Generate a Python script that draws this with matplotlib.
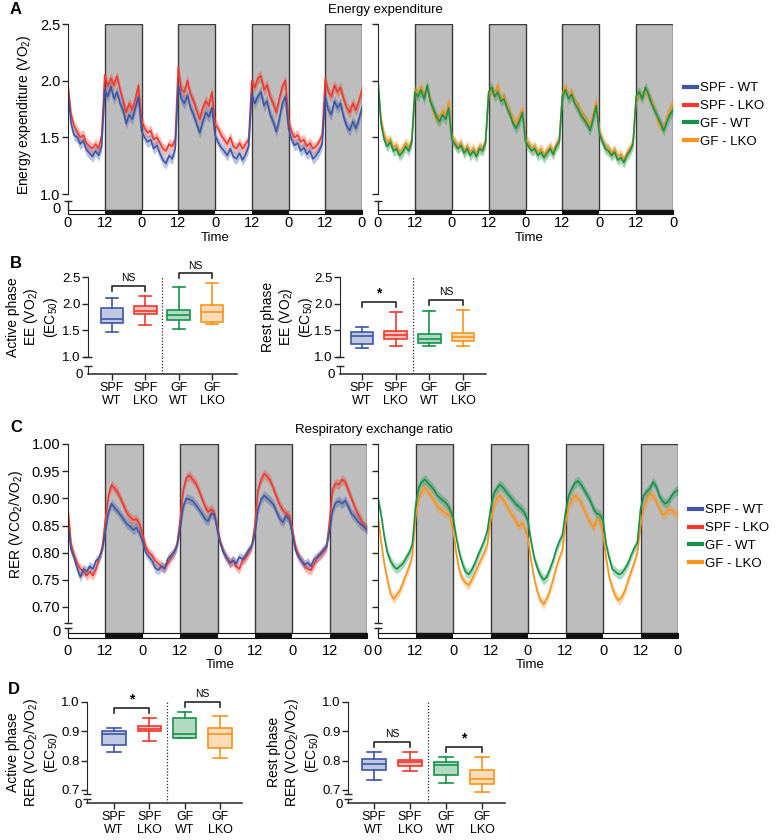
import numpy as np
import matplotlib
matplotlib.use("Agg")
import matplotlib.pyplot as plt
from matplotlib.transforms import blended_transform_factory
from matplotlib.lines import Line2D
from matplotlib.patches import Rectangle
from matplotlib.colors import to_rgba

plt.rcParams['font.family'] = ['Liberation Sans', 'DejaVu Sans']
plt.rcParams['mathtext.default'] = 'regular'

# ---------------- data ----------------
hours = np.arange(0, 97)            # hourly time points, 4 days
dark_starts = [12, 36, 60, 84]
dark_len = 12
time_ticks = [0, 12, 24, 36, 48, 60, 72, 84, 96]
time_ticklabels = ["0", "12", "0", "12", "0", "12", "0", "12", "0"]

groups = ["SPF - WT", "SPF - LKO", "GF - WT", "GF - LKO"]
box_labels = ["SPF\nWT", "SPF\nLKO", "GF\nWT", "GF\nLKO"]

ee_spf_wt = [1.90, 1.62, 1.52, 1.50, 1.44, 1.47, 1.39, 1.36, 1.33, 1.38, 1.34, 1.42,
             1.92, 1.86, 1.95, 1.84, 1.90, 1.80, 1.74, 1.62, 1.70, 1.66, 1.76, 1.86,
             1.56, 1.50, 1.46, 1.48, 1.40, 1.43, 1.36, 1.30, 1.27, 1.34, 1.31, 1.40,
             1.96, 1.84, 1.80, 1.87, 1.76, 1.70, 1.62, 1.54, 1.64, 1.72, 1.68, 1.76,
             1.52, 1.46, 1.41, 1.38, 1.34, 1.40, 1.33, 1.31, 1.36, 1.30, 1.35, 1.42,
             1.88, 1.80, 1.86, 1.90, 1.78, 1.82, 1.70, 1.64, 1.55, 1.66, 1.80, 1.86,
             1.58, 1.48, 1.43, 1.45, 1.38, 1.41, 1.35, 1.38, 1.31, 1.34, 1.38, 1.44,
             1.86, 1.74, 1.70, 1.82, 1.76, 1.80, 1.68, 1.60, 1.56, 1.64, 1.58, 1.66,
             1.76]
ee_spf_lko = [1.96, 1.70, 1.60, 1.55, 1.50, 1.52, 1.45, 1.42, 1.40, 1.44, 1.40, 1.52,
              2.05, 1.95, 2.02, 1.96, 2.04, 1.92, 1.82, 1.72, 1.80, 1.74, 1.84, 1.96,
              1.65, 1.58, 1.54, 1.56, 1.48, 1.50, 1.45, 1.40, 1.38, 1.44, 1.42, 1.48,
              2.12, 1.92, 1.90, 2.00, 1.88, 1.82, 1.74, 1.66, 1.76, 1.82, 1.78, 1.90,
              1.62, 1.58, 1.52, 1.48, 1.44, 1.50, 1.42, 1.40, 1.45, 1.40, 1.44, 1.48,
              2.00, 1.94, 2.02, 2.04, 1.92, 1.96, 1.86, 1.80, 1.72, 1.84, 1.95, 2.00,
              1.65, 1.55, 1.50, 1.52, 1.46, 1.48, 1.42, 1.45, 1.40, 1.42, 1.46, 1.52,
              2.02, 1.90, 1.86, 1.96, 1.90, 1.94, 1.84, 1.76, 1.72, 1.80, 1.74, 1.82,
              1.92]
ee_gf_wt = [2.00, 1.62, 1.48, 1.42, 1.46, 1.38, 1.40, 1.34, 1.37, 1.42, 1.38, 1.46,
            1.90, 1.86, 1.92, 1.84, 1.96, 1.82, 1.75, 1.68, 1.64, 1.70, 1.66, 1.76,
            1.48, 1.44, 1.40, 1.43, 1.36, 1.40, 1.34, 1.38, 1.33, 1.40, 1.38, 1.45,
            1.90, 1.94, 1.86, 1.90, 1.82, 1.84, 1.76, 1.70, 1.62, 1.58, 1.64, 1.72,
            1.46, 1.42, 1.38, 1.40, 1.34, 1.37, 1.32, 1.36, 1.40, 1.35, 1.42, 1.46,
            1.86, 1.92, 1.84, 1.88, 1.80, 1.76, 1.70, 1.66, 1.62, 1.56, 1.66, 1.78,
            1.54, 1.46, 1.40, 1.38, 1.34, 1.37, 1.30, 1.32, 1.28, 1.34, 1.38, 1.44,
            1.86, 1.90, 1.84, 1.94, 1.88, 1.80, 1.74, 1.68, 1.62, 1.56, 1.64, 1.70,
            1.74]
ee_gf_lko = [1.92, 1.66, 1.52, 1.46, 1.48, 1.41, 1.43, 1.37, 1.40, 1.45, 1.41, 1.48,
             1.92, 1.88, 1.95, 1.86, 1.94, 1.84, 1.72, 1.66, 1.66, 1.74, 1.68, 1.82,
             1.50, 1.46, 1.42, 1.45, 1.38, 1.42, 1.37, 1.40, 1.36, 1.42, 1.40, 1.47,
             1.88, 1.92, 1.88, 1.96, 1.84, 1.86, 1.78, 1.72, 1.66, 1.62, 1.68, 1.76,
             1.48, 1.45, 1.40, 1.42, 1.37, 1.40, 1.35, 1.38, 1.42, 1.37, 1.44, 1.48,
             1.88, 1.95, 1.86, 1.90, 1.82, 1.78, 1.72, 1.68, 1.64, 1.60, 1.70, 1.82,
             1.56, 1.48, 1.42, 1.40, 1.36, 1.39, 1.33, 1.35, 1.30, 1.36, 1.40, 1.46,
             1.84, 1.88, 1.86, 1.92, 1.86, 1.82, 1.76, 1.64, 1.60, 1.58, 1.68, 1.76,
             1.80]

rer_spf_wt = [0.850, 0.805, 0.790, 0.770, 0.755, 0.770, 0.765, 0.775, 0.770, 0.785, 0.790, 0.805,
              0.840, 0.875, 0.890, 0.882, 0.876, 0.868, 0.860, 0.852, 0.848, 0.842, 0.846, 0.836,
              0.820, 0.800, 0.792, 0.785, 0.772, 0.768, 0.775, 0.770, 0.788, 0.795, 0.800, 0.812,
              0.845, 0.885, 0.900, 0.898, 0.895, 0.888, 0.880, 0.872, 0.862, 0.858, 0.872, 0.870,
              0.840, 0.815, 0.800, 0.790, 0.782, 0.786, 0.780, 0.792, 0.788, 0.795, 0.805, 0.812,
              0.835, 0.880, 0.898, 0.905, 0.900, 0.895, 0.888, 0.875, 0.862, 0.856, 0.868, 0.862,
              0.835, 0.805, 0.792, 0.785, 0.778, 0.782, 0.775, 0.788, 0.792, 0.798, 0.805, 0.812,
              0.840, 0.880, 0.892, 0.895, 0.890, 0.896, 0.885, 0.872, 0.866, 0.858, 0.852, 0.848,
              0.842]
rer_spf_lko = [0.880, 0.815, 0.795, 0.780, 0.770, 0.765, 0.758, 0.765, 0.758, 0.770, 0.790, 0.810,
               0.860, 0.905, 0.925, 0.918, 0.910, 0.898, 0.885, 0.872, 0.865, 0.860, 0.862, 0.852,
               0.832, 0.810, 0.800, 0.795, 0.785, 0.780, 0.775, 0.772, 0.780, 0.790, 0.800, 0.815,
               0.860, 0.915, 0.938, 0.942, 0.935, 0.928, 0.915, 0.900, 0.885, 0.875, 0.880, 0.872,
               0.845, 0.818, 0.800, 0.790, 0.780, 0.785, 0.775, 0.770, 0.785, 0.790, 0.800, 0.812,
               0.850, 0.915, 0.935, 0.945, 0.940, 0.932, 0.918, 0.902, 0.888, 0.878, 0.872, 0.868,
               0.845, 0.812, 0.795, 0.785, 0.775, 0.770, 0.768, 0.778, 0.790, 0.795, 0.802, 0.810,
               0.860, 0.918, 0.928, 0.925, 0.935, 0.930, 0.915, 0.900, 0.885, 0.872, 0.862, 0.850,
               0.845]
rer_gf_wt = [0.900, 0.870, 0.830, 0.800, 0.785, 0.775, 0.770, 0.775, 0.780, 0.790, 0.800, 0.815,
             0.885, 0.920, 0.930, 0.935, 0.928, 0.922, 0.915, 0.905, 0.900, 0.895, 0.890, 0.880,
             0.865, 0.830, 0.800, 0.780, 0.765, 0.760, 0.768, 0.780, 0.795, 0.808, 0.822, 0.840,
             0.880, 0.908, 0.918, 0.925, 0.920, 0.912, 0.905, 0.898, 0.890, 0.885, 0.880, 0.872,
             0.858, 0.820, 0.790, 0.772, 0.758, 0.750, 0.755, 0.770, 0.785, 0.805, 0.820, 0.832,
             0.875, 0.905, 0.918, 0.928, 0.932, 0.925, 0.915, 0.905, 0.895, 0.880, 0.872, 0.870,
             0.860, 0.815, 0.790, 0.770, 0.765, 0.760, 0.762, 0.770, 0.780, 0.795, 0.808, 0.818,
             0.880, 0.905, 0.912, 0.918, 0.930, 0.922, 0.905, 0.895, 0.890, 0.895, 0.905, 0.912,
             0.915]
rer_gf_lko = [0.865, 0.820, 0.780, 0.750, 0.725, 0.715, 0.722, 0.730, 0.745, 0.760, 0.775, 0.795,
              0.865, 0.900, 0.912, 0.920, 0.912, 0.905, 0.895, 0.885, 0.880, 0.875, 0.872, 0.868,
              0.845, 0.800, 0.768, 0.752, 0.745, 0.740, 0.750, 0.762, 0.775, 0.788, 0.800, 0.815,
              0.860, 0.885, 0.900, 0.905, 0.898, 0.888, 0.878, 0.868, 0.860, 0.848, 0.855, 0.845,
              0.825, 0.785, 0.752, 0.728, 0.712, 0.705, 0.715, 0.730, 0.750, 0.772, 0.790, 0.805,
              0.855, 0.885, 0.898, 0.905, 0.900, 0.892, 0.878, 0.865, 0.855, 0.845, 0.862, 0.858,
              0.835, 0.790, 0.755, 0.735, 0.720, 0.712, 0.718, 0.730, 0.748, 0.765, 0.782, 0.800,
              0.850, 0.882, 0.898, 0.908, 0.905, 0.895, 0.882, 0.870, 0.872, 0.880, 0.878, 0.872,
              0.870]
ee_sem = 0.05
rer_sem = 0.009

# box statistics (whisker low, Q1, median, Q3, whisker high), order = groups
ee_active_spf_wt = [1.46, 1.645, 1.72, 1.91, 2.11]
ee_active_spf_lko = [1.60, 1.80, 1.87, 1.95, 2.15]
ee_active_gf_wt = [1.53, 1.69, 1.78, 1.88, 2.31]
ee_active_gf_lko = [1.62, 1.65, 1.85, 1.97, 2.38]
ee_rest_spf_wt = [1.17, 1.24, 1.39, 1.46, 1.565]
ee_rest_spf_lko = [1.21, 1.34, 1.42, 1.48, 1.85]
ee_rest_gf_wt = [1.20, 1.26, 1.34, 1.43, 1.86]
ee_rest_gf_lko = [1.21, 1.29, 1.37, 1.44, 1.89]
rer_active_spf_wt = [0.828, 0.853, 0.890, 0.900, 0.910]
rer_active_spf_lko = [0.867, 0.900, 0.909, 0.918, 0.947]
rer_active_gf_wt = [0.876, 0.877, 0.890, 0.945, 0.966]
rer_active_gf_lko = [0.808, 0.843, 0.891, 0.911, 0.953]
rer_rest_spf_wt = [0.733, 0.767, 0.788, 0.806, 0.831]
rer_rest_spf_lko = [0.764, 0.782, 0.796, 0.801, 0.831]
rer_rest_gf_wt = [0.724, 0.751, 0.785, 0.796, 0.813]
rer_rest_gf_lko = [0.693, 0.720, 0.738, 0.767, 0.813]

sig_ee_active = ["NS", "NS"]
sig_ee_rest = ["*", "NS"]
sig_rer_active = ["*", "NS"]
sig_rer_rest = ["NS", "*"]

# ---------------- style ----------------
COLORS = ['#3D56A6', '#EE3A2E', '#15924A', '#F7941E']
INK = '#262626'
GRAY = '#BDBDBD'
W, H = 776, 840
fig = plt.figure(figsize=(W / 100, H / 100), dpi=100)


def rect(x0, y0, x1, y1):
    return [x0 / W, 1 - y1 / H, (x1 - x0) / W, (y1 - y0) / H]


def ftext(x, y, s, **kw):
    fig.text(x / W, 1 - y / H, s, **kw)


def time_panel(x0, x1, y_top, bar_top, bar_bot, v_top, ppu, yticks, fmt,
               spine_low_px, seg_top_px, show_labels, series, sem, xpad):
    ax = fig.add_axes(rect(x0, y_top, x1, bar_bot))

    def v(py):
        return v_top - (py - y_top) / ppu

    ax.set_xlim(0, 96)
    ax.set_ylim(v(bar_bot), v_top)
    spans = [(s, dark_len) for s in dark_starts]
    ax.broken_barh(spans, (v(bar_top), v_top - v(bar_top)), facecolors=GRAY,
                   edgecolors='#3a3a3a', linewidth=1.0, zorder=1)
    ax.add_patch(Rectangle((0, v(bar_bot)), 96, v(bar_top) - v(bar_bot),
                           facecolor='white', edgecolor='#111111', lw=0.8,
                           zorder=3, clip_on=False))
    ax.broken_barh(spans, (v(bar_bot), v(bar_top) - v(bar_bot)),
                   facecolors='#111111', edgecolors='none', zorder=4)
    for vals, col in series:
        y = np.asarray(vals)
        ax.fill_between(hours, y - sem, y + sem, color=col, alpha=0.35, lw=0, zorder=2)
        ax.plot(hours, y, color=col, lw=1.2, zorder=2.5)

    for s in ['top', 'right', 'bottom']:
        ax.spines[s].set_visible(False)
    spine_low = v(spine_low_px)
    ax.spines['left'].set_bounds(spine_low, v_top)
    ax.spines['left'].set_color(INK)
    ax.set_yticks(yticks)
    if show_labels:
        ax.set_yticklabels([fmt % t for t in yticks])
    else:
        ax.set_yticklabels([])
    ax.tick_params(axis='y', length=4, width=1, pad=1.5, labelsize=10.5, color=INK)
    ax.set_xticks(time_ticks)
    ax.set_xticklabels(time_ticklabels)
    ax.tick_params(axis='x', length=0, pad=xpad, labelsize=10.5)

    trans = blended_transform_factory(ax.transAxes, ax.transData)
    if spine_low < min(yticks) - 1e-6:
        ax.plot([0], [spine_low], marker='_', ms=6, mew=1, color=INK,
                transform=trans, clip_on=False)
    ax.plot([0, 0], [v(seg_top_px), v(bar_top)], color=INK, lw=1,
            transform=trans, clip_on=False, zorder=5)
    ax.plot([0], [v(seg_top_px)], marker='_', ms=6, mew=1, color=INK,
            transform=trans, clip_on=False)
    if show_labels:
        ax.annotate('0', xy=(0, v(bar_top - 1)), xycoords=trans, xytext=(-5, 0),
                    textcoords='offset points', ha='right', va='center', fontsize=10.5)
    return ax


def box_panel(x0, x1, y_top, y_low_end, y_axis, tick_top, tick_top_px, ppu,
              cat_first_px, cat_last_px, yticks, stats, sig, seg_top_px, box_w, cap_w):
    def v(py):
        return tick_top - (py - tick_top_px) / ppu

    unit = (cat_last_px - cat_first_px) / 3.0
    xlim = (1 - (cat_first_px - x0) / unit, 4 + (x1 - cat_last_px) / unit)

    ax = fig.add_axes(rect(x0, y_top, x1, y_low_end))
    v_low, v_top = v(y_low_end), v(y_top)
    ax.set_ylim(v_low, v_top)
    ax.set_xlim(*xlim)
    st = [dict(whislo=s[0], q1=s[1], med=s[2], q3=s[3], whishi=s[4], label='')
          for s in stats]
    bp = ax.bxp(st, positions=[1, 2, 3, 4], widths=box_w, showfliers=False,
                patch_artist=True, capwidths=cap_w, manage_ticks=False)
    for i, col in enumerate(COLORS):
        bp['boxes'][i].set(facecolor=to_rgba(col, 0.32), edgecolor=col, lw=1.2)
        bp['medians'][i].set(color=col, lw=1.2)
        for k in (2 * i, 2 * i + 1):
            bp['whiskers'][k].set(color=col, lw=1.2)
            bp['caps'][k].set(color=col, lw=1.2)
    # significance brackets
    for (i, j), lab in zip([(1, 2), (3, 4)], sig):
        hi = max(stats[i - 1][4], stats[j - 1][4])
        yb = hi + 10 / ppu
        leg = 5 / ppu
        ax.plot([i, i, j, j], [yb - leg, yb, yb, yb - leg], color=INK, lw=1.2,
                clip_on=False)
        if lab == '*':
            ax.text((i + j) / 2, yb + 1 / ppu, '*', ha='center', va='bottom',
                    fontsize=10, fontweight='bold')
        else:
            ax.text((i + j) / 2, yb + 2.5 / ppu, lab, ha='center', va='bottom', fontsize=7.5)
    ymax_frac = (max(yticks) - v_low) / (v_top - v_low)
    ax.axvline(2.5, ymin=0, ymax=ymax_frac, ls=(0, (1, 1.5)), color=INK, lw=0.9)
    for s in ['top', 'right', 'bottom']:
        ax.spines[s].set_visible(False)
    ax.spines['left'].set_bounds(v_low, max(yticks))
    ax.spines['left'].set_color(INK)
    ax.set_yticks(yticks)
    ax.set_yticklabels(['%.1f' % t for t in yticks])
    ax.tick_params(axis='y', length=4, width=1, pad=1.2, labelsize=9.5, color=INK)
    ax.set_xticks([])
    if v_low < min(yticks) - 1e-6:
        trans = blended_transform_factory(ax.transAxes, ax.transData)
        ax.plot([0], [v_low], marker='_', ms=6, mew=1, color=INK,
                transform=trans, clip_on=False)

    axl = fig.add_axes(rect(x0, y_low_end, x1, y_axis))
    axl.set_xlim(*xlim)
    axl.set_ylim(0, 1)
    axl.patch.set_visible(False)
    seg = (y_axis - seg_top_px) / (y_axis - y_low_end)
    for s in ['top', 'right']:
        axl.spines[s].set_visible(False)
    axl.spines['left'].set_bounds(0, seg)
    axl.spines['left'].set_color(INK)
    axl.spines['bottom'].set_color(INK)
    axl.spines['bottom'].set_linewidth(1.1)
    axl.axvline(2.5, ls=(0, (1, 1.5)), color=INK, lw=0.9)
    trans = blended_transform_factory(axl.transAxes, axl.transData)
    axl.plot([0], [seg], marker='_', ms=6, mew=1, color=INK, transform=trans, clip_on=False)
    axl.set_yticks([0])
    axl.set_yticklabels(['0'])
    axl.tick_params(axis='y', length=0, pad=4, labelsize=9.5)
    axl.set_xticks([1, 2, 3, 4])
    axl.set_xticklabels(box_labels, fontsize=9, linespacing=1.05)
    axl.tick_params(axis='x', length=4, width=1, pad=2, color=INK)
    return ax, axl


# ---------------- Panel A ----------------
ppu_A = 170 / 1.5
time_panel(68, 362, 24, 210, 214, 2.5, ppu_A, [1.0, 1.5, 2.0, 2.5], '%.1f',
           194, 201, True, [(ee_spf_lko, COLORS[1]), (ee_spf_wt, COLORS[0])], ee_sem, 1.5)
time_panel(378, 673, 24, 210, 214, 2.5, ppu_A, [1.0, 1.5, 2.0, 2.5], '%.1f',
           194, 201, False, [(ee_gf_lko, COLORS[3]), (ee_gf_wt, COLORS[2])], ee_sem, 1.5)
ftext(385, 10, 'Energy expenditure', ha='center', va='center', fontsize=9.5)
ftext(24, 115, 'Energy expenditure (VO$_2$)', rotation=90, ha='center', va='center', fontsize=10)
ftext(215, 238, 'Time', ha='center', va='center', fontsize=9.5)
ftext(529, 238, 'Time', ha='center', va='center', fontsize=9.5)

handles = [Line2D([0], [0], color=c, lw=3) for c in COLORS]
fig.legend(handles, groups, loc='center left', bbox_to_anchor=(684 / W, 1 - 115 / H),
           frameon=False, handlelength=1.0, handletextpad=0.25, labelspacing=0.42,
           fontsize=9.5, borderpad=0, borderaxespad=0)

# ---------------- Panel B ----------------
box_panel(88, 237, 258, 357, 374, 2.5, 277, 53.3, 112, 212, [1.0, 1.5, 2.0, 2.5],
          [ee_active_spf_wt, ee_active_spf_lko, ee_active_gf_wt, ee_active_gf_lko],
          sig_ee_active, 366, 0.68, 0.36)
box_panel(340, 486, 258, 357, 374, 2.5, 277, 53.3, 362, 463, [1.0, 1.5, 2.0, 2.5],
          [ee_rest_spf_wt, ee_rest_spf_lko, ee_rest_gf_wt, ee_rest_gf_lko],
          sig_ee_rest, 366, 0.68, 0.36)
ftext(33, 317, 'Active phase\nEE (VO$_2$)\n(EC$_{50}$)', rotation=90, ha='center',
      va='center', fontsize=10, multialignment='center', linespacing=1.15)
ftext(288, 317, 'Rest phase\nEE (VO$_2$)\n(EC$_{50}$)', rotation=90, ha='center',
      va='center', fontsize=10, multialignment='center', linespacing=1.15)

# ---------------- Panel C ----------------
ppu_C = 163 / 0.30
rer_ticks = [0.70, 0.75, 0.80, 0.85, 0.90, 0.95, 1.00]
time_panel(68, 367, 444, 633, 638, 1.0, ppu_C, rer_ticks, '%.2f',
           623, 628, True, [(rer_spf_lko, COLORS[1]), (rer_spf_wt, COLORS[0])], rer_sem, 4.5)
time_panel(378, 678, 444, 633, 638, 1.0, ppu_C, rer_ticks, '%.2f',
           623, 628, False, [(rer_gf_lko, COLORS[3]), (rer_gf_wt, COLORS[2])], rer_sem, 4.5)
ftext(374, 430, 'Respiratory exchange ratio', ha='center', va='center', fontsize=9.5)
ftext(16, 524, 'RER (VCO$_2$/VO$_2$)', rotation=90, ha='center', va='center', fontsize=10)
ftext(220, 665, 'Time', ha='center', va='center', fontsize=9.5)
ftext(530, 665, 'Time', ha='center', va='center', fontsize=9.5)
fig.legend([Line2D([0], [0], color=c, lw=3) for c in COLORS], groups, loc='center left',
           bbox_to_anchor=(689 / W, 1 - 537 / H), frameon=False, handlelength=1.0,
           handletextpad=0.25, labelspacing=0.42, fontsize=9.5, borderpad=0, borderaxespad=0)

# ---------------- Panel D ----------------
box_panel(87, 242, 684, 794, 803, 1.0, 702, 293.3, 114, 220, [0.7, 0.8, 0.9, 1.0],
          [rer_active_spf_wt, rer_active_spf_lko, rer_active_gf_wt, rer_active_gf_lko],
          sig_rer_active, 799, 0.66, 0.38)
box_panel(348, 505, 684, 794, 803, 1.0, 702, 293.3, 374, 482, [0.7, 0.8, 0.9, 1.0],
          [rer_rest_spf_wt, rer_rest_spf_lko, rer_rest_gf_wt, rer_rest_gf_lko],
          sig_rer_rest, 799, 0.66, 0.38)
ftext(33, 752, 'Active phase\nRER (VCO$_2$/VO$_2$)\n(EC$_{50}$)', rotation=90, ha='center',
      va='center', fontsize=10, multialignment='center', linespacing=1.15)
ftext(294, 752, 'Rest phase\nRER (VCO$_2$/VO$_2$)\n(EC$_{50}$)', rotation=90, ha='center',
      va='center', fontsize=10, multialignment='center', linespacing=1.15)

# panel letters
for letter, (px, py) in zip("ABCD", [(10, 10), (10, 264), (10, 428), (8, 689)]):
    ftext(px, py, letter, ha='left', va='center', fontsize=12, fontweight='bold')

fig.savefig('out.png', dpi=100, facecolor='white')
